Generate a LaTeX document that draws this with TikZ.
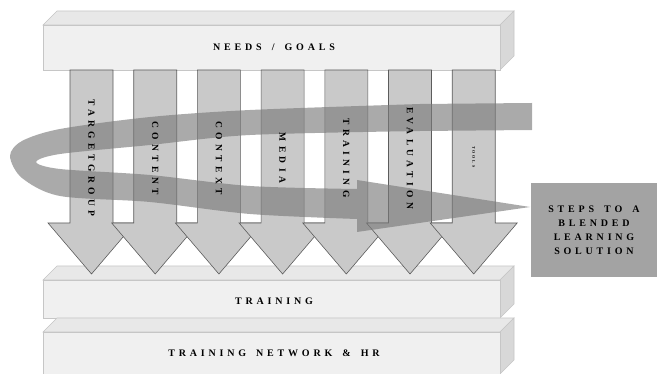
\documentclass[tikz,border=0pt]{standalone}
\usepackage{fontspec}
\setmainfont{Liberation Serif}
\newfontfamily\slabfont[LetterSpace=38,WordSpace=1.6]{Liberation Serif}
\newfontfamily\pillarfont[LetterSpace=46]{Liberation Serif}
\usetikzlibrary{positioning}

\definecolor{slabfront}{HTML}{F0F0F0}
\definecolor{slabtop}{HTML}{E8E8E8}
\definecolor{slabside}{HTML}{D8D8D8}
\definecolor{slabline}{HTML}{C6C6C6}
\definecolor{pillarfill}{HTML}{C9C9C9}
\definecolor{pillarline}{HTML}{5C5C5C}
\definecolor{ribbongray}{HTML}{7A7A7A}
\definecolor{stepsgray}{HTML}{A3A3A3}

\begin{document}
\begin{tikzpicture}
[
  x=1pt,
  y=-1pt,
  slab/.style={draw=slabline,line width=0.6pt},
  pillar/.style={draw=pillarline,fill=pillarfill,line width=0.6pt},
  ribbon/.style={fill=ribbongray,fill opacity=0.64},
  slablabel/.style={font=\slabfont\bfseries\fontsize{10}{12}\selectfont,inner sep=0pt},
  pillarlabel/.style={font=\pillarfont\bfseries\fontsize{9.5}{11}\selectfont,rotate=-90,inner sep=0pt},
  stepsbox/.style={fill=stepsgray,minimum width=126pt,minimum height=94pt,inner sep=0pt,align=center,
    font=\slabfont\bfseries\fontsize{10}{14}\selectfont}
]
\useasboundingbox (0,0) rectangle (657,374);

% Slabs (top, bottom two)
\foreach \ytop/\ybot in {25/70,280/318,332/374} {
  \filldraw[slab,fill=slabtop] (43,\ytop) -- (57,\ytop-14) -- (514,\ytop-14) -- (500,\ytop) -- cycle;
  \filldraw[slab,fill=slabside] (500,\ytop) -- (514,\ytop-14) -- (514,\ybot-14) -- (500,\ybot) -- cycle;
  \filldraw[slab,fill=slabfront] (43,\ytop) rectangle (500,\ybot);
}
\node[slablabel] (needs) at (274,47) {NEEDS / GOALS};
\node[slablabel] (training) at (274,301) {TRAINING};
\node[slablabel] (network) at (274,353) {TRAINING NETWORK \& HR};

% Down arrows
\foreach \i in {0,...,6} {
  \pgfmathsetmacro{\xl}{70+63.7*\i}
  \draw[pillar] (\xl,70) -- (\xl,223) -- (\xl-22,223) -- (\xl+21.5,274)
    -- (\xl+65,223) -- (\xl+43,223) -- (\xl+43,70) -- cycle;
}

% Ribbon loop
\fill[ribbon] (532,103) -- plot[smooth] coordinates {(420,104) (250,110) (150,117) (60,129)
    (22,141) (10,156) (22,178) (60,196) (150,202) (250,214) (357,219)}
  -- (357,232) -- (530,207) -- (357,180)
  -- plot[smooth] coordinates {(357,189) (250,186) (150,175) (60,169) (36,162)
    (60,154) (150,145) (250,135) (420,131)}
  -- (532,130) -- cycle;

% Arrow labels
\foreach \lbl [count=\i from 0] in {TARGETGROUP,CONTENT,CONTEXT,MEDIA,TRAINING,EVALUATION} {
  \pgfmathsetmacro{\xc}{91.5+63.7*\i}
  \node[pillarlabel] (lbl\i) at (\xc,158) {\lbl};
}
\node[pillarlabel,font=\pillarfont\bfseries\fontsize{4}{5}\selectfont] (lbl6) at (473.7,157) {TOOLS};

\node[stepsbox] (steps) at (594,230) {STEPS TO A\\BLENDED\\LEARNING\\SOLUTION};

\end{tikzpicture}
\end{document}
